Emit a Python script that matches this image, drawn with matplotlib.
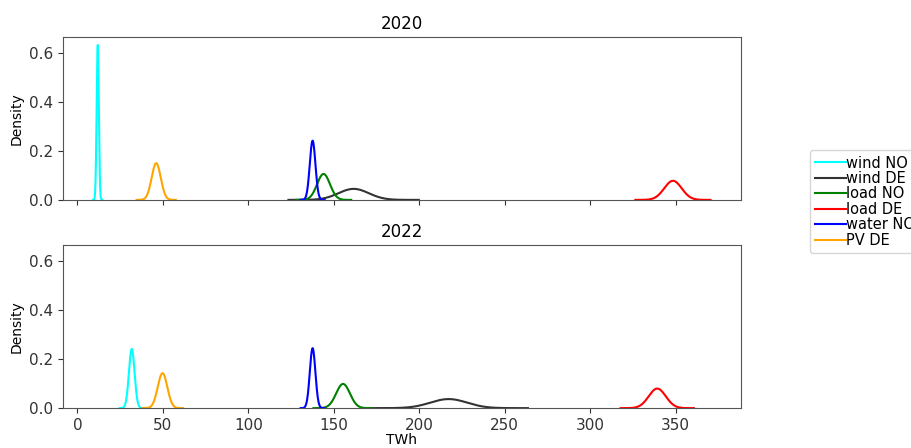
import numpy as np
import matplotlib
matplotlib.use("Agg")
import matplotlib.pyplot as plt

# series, colours, and KDE peak location / peak density
labels = ["wind NO", "wind DE", "load NO", "load DE", "water NO", "PV DE"]
colors = ["cyan", "#333333", "green", "red", "blue", "orange"]
years = ["2020", "2022"]
mu_2020 = [11.9, 161.6, 144.0, 348.4, 137.6, 46.1]
peak_2020 = [0.633, 0.045, 0.106, 0.078, 0.242, 0.150]
mu_2022 = [31.8, 217.2, 155.4, 339.2, 137.6, 49.8]
peak_2022 = [0.242, 0.037, 0.099, 0.080, 0.245, 0.143]
mus = [mu_2020, mu_2022]
peaks = [peak_2020, peak_2022]

fig, axes = plt.subplots(2, 1, figsize=(9.11, 4.48), dpi=100, sharex=True, sharey=True)
fig.subplots_adjust(left=0.069, right=0.813, top=0.917, bottom=0.089, hspace=0.28)

for ax, yr, mu_list, pk_list in zip(axes, years, mus, peaks):
    for lab, c, m, p in zip(labels, colors, mu_list, pk_list):
        s = 1 / (p * np.sqrt(2 * np.pi))
        x = np.linspace(m - 4.3 * s, m + 4.3 * s, 300)
        y = p * np.exp(-0.5 * ((x - m) / s) ** 2)
        ax.plot(x, y, color=c, lw=1.5, label=lab)
    ax.set_title(yr, fontsize=12)
    ax.set_ylabel("Density", fontsize=10)
    for sp in ax.spines.values():
        sp.set_color("#555555")

axes[0].set_xlim(-8.5, 388)
axes[0].set_ylim(0, 0.665)
axes[0].set_yticks([0, 0.2, 0.4, 0.6])
axes[1].set_xticks([0, 50, 100, 150, 200, 250, 300, 350])
axes[1].set_xlabel("TWh", fontsize=10, labelpad=0)
for ax in axes:
    ax.tick_params(labelsize=11, colors="#333333")

h, l = axes[0].get_legend_handles_labels()
fig.legend(h, l, loc="center left", bbox_to_anchor=(0.881, 0.55), fontsize=10.5,
           handlelength=2.1, handletextpad=0.05, labelspacing=0.03, borderpad=0.35,
           frameon=True)
fig.savefig("out.png", dpi=100)
